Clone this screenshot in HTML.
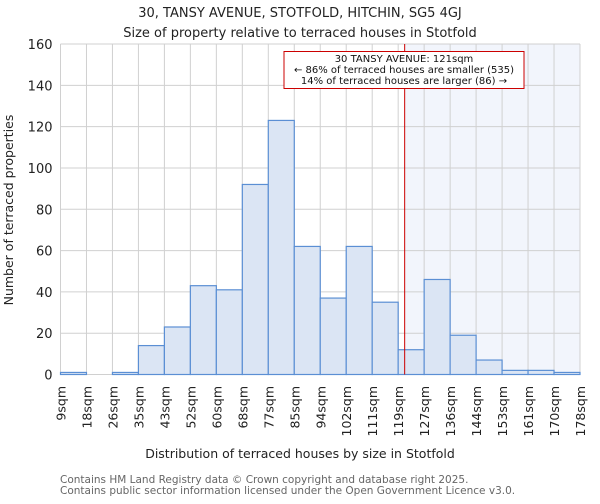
<!DOCTYPE html>
<html><head><meta charset="utf-8"><style>
body{margin:0;background:#fff;font-family:"DejaVu Sans","Liberation Sans",sans-serif}
svg text{font-family:"DejaVu Sans","Liberation Sans",sans-serif}
</style></head><body>
<svg id="c" width="600" height="500">
<text x="300" y="17" text-anchor="middle" font-size="13" fill="#222">30, TANSY AVENUE, STOTFOLD, HITCHIN, SG5 4GJ</text>
<text x="300" y="37" text-anchor="middle" font-size="13" fill="#222">Size of property relative to terraced houses in Stotfold</text>
<g id="plot"></g>
<text x="300" y="458" text-anchor="middle" font-size="12.5" fill="#222">Distribution of terraced houses by size in Stotfold</text>
<text transform="translate(13,210) rotate(-90)" text-anchor="middle" font-size="12.5" fill="#222">Number of terraced properties</text>
<text x="60" y="483" font-size="10.5" fill="#666">Contains HM Land Registry data © Crown copyright and database right 2025.</text>
<text x="60" y="494" font-size="10.5" fill="#666">Contains public sector information licensed under the Open Government Licence v3.0.</text>
</svg>
<script>
const categories=["9sqm","18sqm","26sqm","35sqm","43sqm","52sqm","60sqm","68sqm","77sqm","85sqm","94sqm","102sqm","111sqm","119sqm","127sqm","136sqm","144sqm","153sqm","161sqm","170sqm","178sqm"];
const binEdges=[9,18,26,35,43,52,60,68,77,85,94,102,111,119,127,136,144,153,161,170,178];
const counts=[1,0,1,14,23,43,41,92,123,62,37,62,35,12,46,19,7,2,2,1];
const yTicks=[0,20,40,60,80,100,120,140,160];
const propertySize=121;
const NS="http://www.w3.org/2000/svg";
const g=document.getElementById('plot');
const X0=60.5,X1=580,Y0=374.5,Y1=44,yMax=160;
const nb=counts.length,bw=(X1-X0)/nb;
function xi(i){return X0+i*bw;}
function y(v){return Y0-(v/yMax)*(Y0-Y1);}
function xv(v){let i=0;while(i<binEdges.length-2&&v>binEdges[i+1])i++;return xi(i+(v-binEdges[i])/(binEdges[i+1]-binEdges[i]));}
function mk(t,a){const e=document.createElementNS(NS,t);for(const k in a)e.setAttribute(k,a[k]);g.appendChild(e);return e;}
const rx=xv(propertySize);
let sh=mk('rect',{x:rx,y:Y1,width:X1-rx,height:Y0-Y1,fill:'#f2f5fc'});


for(let i=0;i<=nb;i++){let l=mk('line',{x1:xi(i),x2:xi(i),y1:Y1,y2:Y0,stroke:'#d0d0d0','stroke-width':1});

}
yTicks.forEach(t=>{let l=mk('line',{x1:X0,x2:X1,y1:y(t),y2:y(t),stroke:'#d0d0d0','stroke-width':1});


let tx=mk('text',{x:X0-8,y:y(t)+5,'text-anchor':'end','font-size':13,fill:'#222'});tx.textContent=t;

});
counts.forEach((c,i)=>{let r=mk('rect',{x:xi(i),y:y(c),width:bw,height:Y0-y(c),fill:'#dbe5f4',stroke:'#5b8fd4','stroke-width':1.2});

});
categories.forEach((c,i)=>{let t=mk('text',{transform:`translate(${xi(i)+5},386) rotate(-90)`,'text-anchor':'end','font-size':12.5,fill:'#222'});t.textContent=c;

});
let rl=mk('line',{x1:rx,x2:rx,y1:Y1,y2:Y0,stroke:'#cc0000','stroke-width':1});


let bx=mk('rect',{x:284,y:51.5,width:240,height:37,fill:'#fff',stroke:'#cc0000','stroke-width':1});


["30 TANSY AVENUE: 121sqm","← 86% of terraced houses are smaller (535)","14% of terraced houses are larger (86) →"].forEach((s,i)=>{let t=mk('text',{x:404,y:62+i*11,'text-anchor':'middle','font-size':10,fill:'#111'});t.textContent=s;

});
</script>
</body></html>
